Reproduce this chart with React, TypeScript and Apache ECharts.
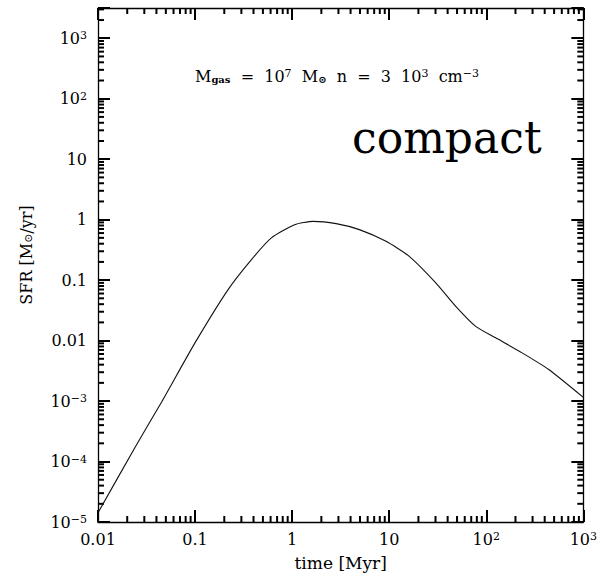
import React, { useEffect, useRef } from "react";
import * as echarts from "echarts";

// Curve (time in Myr, SFR in Msun/yr)
const timeMyr = [0.01, 0.0242, 0.0454, 0.0998, 0.219, 0.381, 0.611, 1.06, 1.64, 2.84, 4.93, 9.27, 16.1, 30.2, 48.5, 77.8, 125, 234, 440, 1000];
const sfr = [1.42e-5, 1.74e-4, 9.77e-4, 9.16e-3, 0.0697, 0.218, 0.499, 0.826, 0.938, 0.859, 0.684, 0.438, 0.247, 0.09, 0.0369, 0.0172, 0.0111, 0.00626, 0.00332, 0.00115];

// Axis ranges (log10 exponents)
const X_MIN = -2;
const X_MAX = 3;
const Y_MIN = -5;
const Y_MAX = 3.5;

// Tick labels by decade exponent
const xTickLabels: Record<string, string> = {
  "-2": "0.01", "-1": "0.1", "0": "1", "1": "10", "2": "{b|10}{s|2}", "3": "{b|10}{s|3}",
};
const yTickLabels: Record<string, string> = {
  "-5": "{b|10}{s|−5}", "-4": "{b|10}{s|−4}", "-3": "{b|10}{s|−3}", "-2": "0.01", "-1": "0.1",
  "0": "1", "1": "10", "2": "{b|10}{s|2}", "3": "{b|10}{s|3}",
};

const minorMultipliers = [2, 3, 4, 5, 6, 7, 8, 9];
const FONT = "DejaVu Serif";
const INK = "#000000";

export default function App() {
  const ref = useRef<HTMLDivElement>(null);
  useEffect(() => {
    if (!ref.current) return;
    const chart = echarts.init(ref.current, null, { renderer: "svg" });

    const xMinor: number[][] = [];
    for (let d = X_MIN; d < X_MAX; d++) for (const k of minorMultipliers) xMinor.push([d + Math.log10(k), Y_MIN]);
    const yMinor: number[][] = [];
    for (let d = Y_MIN; d < Math.ceil(Y_MAX); d++)
      for (const k of minorMultipliers) {
        const v = d + Math.log10(k);
        if (v < Y_MAX) yMinor.push([X_MIN, v]);
      }

    const richLabel = {
      b: { fontSize: 16, fontFamily: FONT, color: "#000" },
      s: { fontSize: 11, fontFamily: FONT, color: "#000", verticalAlign: "top" as const },
    };

    const mkAxis = () => ({
      type: "value" as const,
      axisLine: { show: true, onZero: false, lineStyle: { color: "#000", width: 1.3 } },
      axisTick: { show: true, inside: true, length: 12, lineStyle: { color: INK, width: 2 } },
      splitLine: { show: false },
      interval: 1,
    });

    const lineData = timeMyr.map((t, i) => [Math.log10(t), Math.log10(sfr[i])]);

    const tickLine = (x1: number, y1: number, x2: number, y2: number) => ({
      type: "line",
      shape: { x1, y1, x2, y2 },
      style: { stroke: INK, lineWidth: 2 },
    });

    chart.setOption({
      animation: false,
      backgroundColor: "#fff",
      grid: { left: 98, right: 16, top: 8, bottom: 57 },
      xAxis: [
        {
          ...mkAxis(), position: "bottom", min: X_MIN, max: X_MAX,
          name: "time [Myr]", nameLocation: "middle", nameGap: 32,
          nameTextStyle: { fontFamily: FONT, fontSize: 17, color: "#000" },
          axisLabel: {
            show: true, margin: 9, fontFamily: FONT, fontSize: 16, color: "#000", rich: richLabel,
            formatter: (v: number) => (Number.isInteger(v) ? xTickLabels[String(v)] ?? "" : ""),
          },
        },
        { ...mkAxis(), position: "top", min: X_MIN, max: X_MAX, axisLabel: { show: false } },
      ],
      yAxis: [
        {
          ...mkAxis(), position: "left", min: Y_MIN, max: Y_MAX,
          name: "SFR [M{sub|⊙}/yr]", nameLocation: "middle", nameGap: 64, nameRotate: 90,
          nameTextStyle: {
            fontFamily: FONT, fontSize: 16, color: "#000", padding: [0, 0, 0, 20],
            rich: { sub: { fontSize: 11, fontFamily: FONT, color: "#000", verticalAlign: "bottom" } },
          },
          axisLabel: {
            show: true, margin: 11, fontFamily: FONT, fontSize: 16, color: "#000", rich: richLabel,
            formatter: (v: number) => (Number.isInteger(v) ? yTickLabels[String(v)] ?? "" : ""),
          },
        },
        { ...mkAxis(), position: "right", min: Y_MIN, max: Y_MAX, axisLabel: { show: false } },
      ],
      graphic: [
        {
          type: "text", x: 195, y: 76,
          style: {
            text: "M{sub|gas}  =  10{sup|7}  M{sub|⊙}  n  =  3  10{sup|3}  cm{sup|−3}",
            fontFamily: FONT, fontSize: 16, fill: "#000", verticalAlign: "middle",
            rich: {
              sub: { fontSize: 10, fontFamily: FONT, fontWeight: "bold", fill: "#000", verticalAlign: "bottom" },
              sup: { fontSize: 11, fontFamily: FONT, fill: "#000", verticalAlign: "top" },
            },
          },
        },
        {
          type: "text", x: 352, y: 137,
          style: { text: "compact", fontFamily: FONT, fontSize: 44, fill: "#000", verticalAlign: "middle" },
        },
      ],
      series: [
        {
          type: "line", data: lineData, smooth: 0.2, symbol: "none",
          lineStyle: { color: "#111", width: 1.1 },
        },
        {
          type: "custom", data: xMinor, clip: false,
          renderItem: (_p: any, api: any) => {
            const v = api.value(0);
            const b = api.coord([v, Y_MIN]);
            const t = api.coord([v, Y_MAX]);
            return {
              type: "group",
              children: [tickLine(b[0], b[1], b[0], b[1] - 6), tickLine(t[0], t[1], t[0], t[1] + 6)],
            };
          },
        },
        {
          type: "custom", data: yMinor, clip: false,
          renderItem: (_p: any, api: any) => {
            const v = api.value(1);
            const l = api.coord([X_MIN, v]);
            const r = api.coord([X_MAX, v]);
            return {
              type: "group",
              children: [tickLine(l[0], l[1], l[0] + 6, l[1]), tickLine(r[0], r[1], r[0] - 6, r[1])],
            };
          },
        },
      ],
    });
    return () => chart.dispose();
  }, []);
  return <div ref={ref} style={{ position: "fixed", left: 0, top: 0, width: 600, height: 579, background: "#fff" }} />;
}
